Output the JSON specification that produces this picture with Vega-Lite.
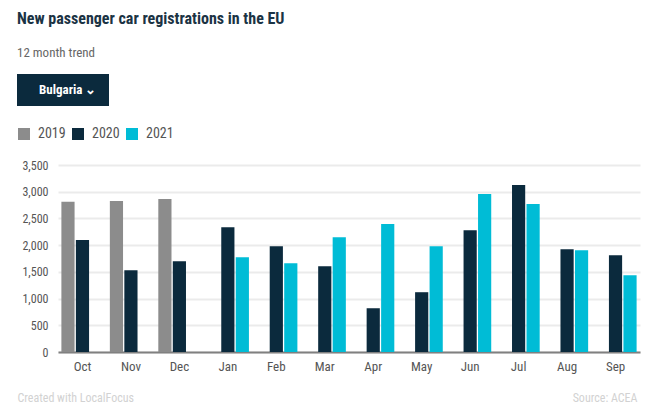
{
  "$schema": "https://vega.github.io/schema/vega-lite/v6.json",
  "width": 582,
  "height": 187,
  "autosize": "none",
  "padding": {"left": 58, "top": 165, "right": 21, "bottom": 67},
  "background": "white",
  "config": {
    "font": "Roboto Condensed, Roboto",
    "view": {"stroke": null}
  },
  "title": {
    "text": "New passenger car registrations in the EU",
    "subtitle": "12 month trend",
    "anchor": "start",
    "frame": "group",
    "dx": -41,
    "offset": 14,
    "font": "Roboto Condensed, Roboto",
    "fontSize": 16,
    "fontWeight": "bold",
    "color": "#1b3344",
    "subtitleFont": "Roboto Condensed, Roboto",
    "subtitleFontSize": 13,
    "subtitleColor": "#666666",
    "subtitlePadding": 20
  },
  "layer": [
    {
      "data": {
        "values": [
          {"month": "Oct", "year": "2019", "value": 2810},
          {"month": "Oct", "year": "2020", "value": 2094},
          {"month": "Nov", "year": "2019", "value": 2825},
          {"month": "Nov", "year": "2020", "value": 1531},
          {"month": "Dec", "year": "2019", "value": 2862},
          {"month": "Dec", "year": "2020", "value": 1700},
          {"month": "Jan", "year": "2020", "value": 2337},
          {"month": "Jan", "year": "2021", "value": 1775},
          {"month": "Feb", "year": "2020", "value": 1981},
          {"month": "Feb", "year": "2021", "value": 1662},
          {"month": "Mar", "year": "2020", "value": 1606},
          {"month": "Mar", "year": "2021", "value": 2150},
          {"month": "Apr", "year": "2020", "value": 819},
          {"month": "Apr", "year": "2021", "value": 2394},
          {"month": "May", "year": "2020", "value": 1119},
          {"month": "May", "year": "2021", "value": 1981},
          {"month": "Jun", "year": "2020", "value": 2281},
          {"month": "Jun", "year": "2021", "value": 2956},
          {"month": "Jul", "year": "2020", "value": 3125},
          {"month": "Jul", "year": "2021", "value": 2769},
          {"month": "Aug", "year": "2020", "value": 1925},
          {"month": "Aug", "year": "2021", "value": 1906},
          {"month": "Sep", "year": "2020", "value": 1812},
          {"month": "Sep", "year": "2021", "value": 1437}
        ]
      },
      "mark": {"type": "bar"},
      "encoding": {
        "x": {
          "field": "month",
          "type": "nominal",
          "sort": ["Oct", "Nov", "Dec", "Jan", "Feb", "Mar", "Apr", "May", "Jun", "Jul", "Aug", "Sep"],
          "scale": {"paddingInner": 0.13, "paddingOuter": 0.07},
          "axis": {
            "labelAngle": 0,
            "labelFontSize": 13,
            "labelColor": "#555555",
            "labelPadding": 8,
            "ticks": false,
            "domainColor": "#808080",
            "domainWidth": 2,
            "grid": false,
            "title": "Created with LocalFocus",
            "titleAnchor": "start",
            "titleAlign": "left",
            "titleX": -41,
            "titleY": 45,
            "titleBaseline": "middle",
            "titleFontSize": 12,
            "titleFontWeight": "normal",
            "titleColor": "#d2d2d2"
          }
        },
        "xOffset": {
          "field": "year",
          "type": "nominal",
          "scale": {"domain": ["2019", "2020", "2021"], "paddingInner": 0.09}
        },
        "y": {
          "field": "value",
          "type": "quantitative",
          "scale": {"domain": [0, 3500], "nice": false},
          "axis": {
            "values": [0, 500, 1000, 1500, 2000, 2500, 3000, 3500],
            "format": ",.0f",
            "labelFontSize": 12,
            "labelColor": "#555555",
            "labelPadding": 10,
            "ticks": false,
            "domain": false,
            "gridColor": "#ebebeb",
            "gridWidth": 2,
            "title": "Source: ACEA",
            "titleAngle": 0,
            "titleAlign": "right",
            "titleBaseline": "middle",
            "titleX": 579,
            "titleY": 232,
            "titleFontSize": 12,
            "titleFontWeight": "normal",
            "titleColor": "#d2d2d2"
          }
        },
        "color": {
          "field": "year",
          "type": "nominal",
          "scale": {"domain": ["2019", "2020", "2021"], "range": ["#8c8c8c", "#0b2a3d", "#00bcd6"]},
          "legend": {
            "orient": "none",
            "direction": "horizontal",
            "legendX": -41,
            "legendY": -38,
            "title": null,
            "symbolType": "square",
            "symbolSize": 144,
            "symbolStrokeWidth": 0,
            "symbolOpacity": 1,
            "labelFontSize": 14,
            "labelColor": "#555555",
            "labelOffset": 7,
            "columnPadding": 5,
            "padding": 0
          }
        }
      }
    },
    {
      "data": {"values": [{"country": "Bulgaria"}]},
      "mark": {"type": "point", "opacity": 0},
      "encoding": {
        "shape": {
          "field": "country",
          "type": "nominal",
          "legend": {
            "orient": "none",
            "legendX": -41,
            "legendY": -91,
            "title": null,
            "fillColor": "#0b2a3d",
            "padding": 9,
            "symbolOpacity": 0,
            "symbolSize": 0,
            "symbolStrokeWidth": 0,
            "labelOffset": 0,
            "labelColor": "#ffffff",
            "labelFontSize": 13,
            "labelFontWeight": "bold",
            "labelExpr": "datum.label + '  ⌄'"
          }
        }
      }
    }
  ]
}
